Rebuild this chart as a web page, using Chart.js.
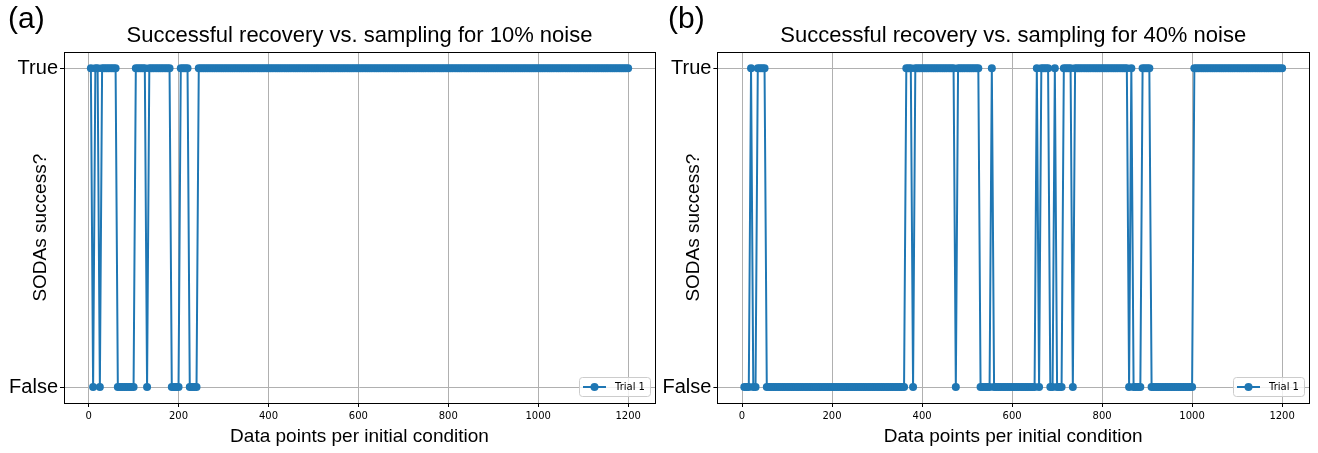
<!DOCTYPE html>
<html>
<head>
<meta charset="utf-8">
<script src="https://cdn.jsdelivr.net/npm/chart.js@4.4.1/dist/chart.umd.min.js"></script>
<style>
  html, body { margin: 0; padding: 0; background: #fff; }
  #wrap { position: relative; width: 1318px; height: 453px; overflow: hidden; }
  .panel { position: absolute; top: 0; height: 453px; }
  .tag { position: absolute; top: 1px; font-family: 'Liberation Sans', Arial, sans-serif; font-size: 30px; color: #000; }
</style>
</head>
<body>
<div id="wrap">
  <div class="panel" style="left:0;width:660px"><canvas id="chartA"></canvas></div>
  <div class="panel" style="left:660px;width:658px"><canvas id="chartB"></canvas></div>
  <div class="tag" style="left:8px">(a)</div>
  <div class="tag" style="left:668px">(b)</div>
</div>
<script>
// data points per initial condition (x values)
const samplesPerIC = [
    5, 10, 15, 20, 25, 30, 35, 40, 45, 50, 55, 60, 65, 70, 75, 80, 85, 90, 95, 100,
    105, 110, 115, 120, 125, 130, 135, 140, 145, 150, 155, 160, 165, 170, 175, 180, 185, 190, 195, 200,
    205, 210, 215, 220, 225, 230, 235, 240, 245, 250, 255, 260, 265, 270, 275, 280, 285, 290, 295, 300,
    305, 310, 315, 320, 325, 330, 335, 340, 345, 350, 355, 360, 365, 370, 375, 380, 385, 390, 395, 400,
    405, 410, 415, 420, 425, 430, 435, 440, 445, 450, 455, 460, 465, 470, 475, 480, 485, 490, 495, 500,
    505, 510, 515, 520, 525, 530, 535, 540, 545, 550, 555, 560, 565, 570, 575, 580, 585, 590, 595, 600,
    605, 610, 615, 620, 625, 630, 635, 640, 645, 650, 655, 660, 665, 670, 675, 680, 685, 690, 695, 700,
    705, 710, 715, 720, 725, 730, 735, 740, 745, 750, 755, 760, 765, 770, 775, 780, 785, 790, 795, 800,
    805, 810, 815, 820, 825, 830, 835, 840, 845, 850, 855, 860, 865, 870, 875, 880, 885, 890, 895, 900,
    905, 910, 915, 920, 925, 930, 935, 940, 945, 950, 955, 960, 965, 970, 975, 980, 985, 990, 995, 1000,
    1005, 1010, 1015, 1020, 1025, 1030, 1035, 1040, 1045, 1050, 1055, 1060, 1065, 1070, 1075, 1080, 1085, 1090, 1095, 1100,
    1105, 1110, 1115, 1120, 1125, 1130, 1135, 1140, 1145, 1150, 1155, 1160, 1165, 1170, 1175, 1180, 1185, 1190, 1195, 1200
];

// SODAs success, 1 = True, 0 = False (10% noise)
const trialA = [
    1, 0, 1, 1, 0, 1, 1, 1, 1, 1, 1, 1, 0, 0, 0, 0, 0, 0, 0, 0,
    1, 1, 1, 1, 1, 0, 1, 1, 1, 1, 1, 1, 1, 1, 1, 1, 0, 0, 0, 0,
    1, 1, 1, 1, 0, 0, 0, 0, 1, 1, 1, 1, 1, 1, 1, 1, 1, 1, 1, 1,
    1, 1, 1, 1, 1, 1, 1, 1, 1, 1, 1, 1, 1, 1, 1, 1, 1, 1, 1, 1,
    1, 1, 1, 1, 1, 1, 1, 1, 1, 1, 1, 1, 1, 1, 1, 1, 1, 1, 1, 1,
    1, 1, 1, 1, 1, 1, 1, 1, 1, 1, 1, 1, 1, 1, 1, 1, 1, 1, 1, 1,
    1, 1, 1, 1, 1, 1, 1, 1, 1, 1, 1, 1, 1, 1, 1, 1, 1, 1, 1, 1,
    1, 1, 1, 1, 1, 1, 1, 1, 1, 1, 1, 1, 1, 1, 1, 1, 1, 1, 1, 1,
    1, 1, 1, 1, 1, 1, 1, 1, 1, 1, 1, 1, 1, 1, 1, 1, 1, 1, 1, 1,
    1, 1, 1, 1, 1, 1, 1, 1, 1, 1, 1, 1, 1, 1, 1, 1, 1, 1, 1, 1,
    1, 1, 1, 1, 1, 1, 1, 1, 1, 1, 1, 1, 1, 1, 1, 1, 1, 1, 1, 1,
    1, 1, 1, 1, 1, 1, 1, 1, 1, 1, 1, 1, 1, 1, 1, 1, 1, 1, 1, 1
];

// SODAs success (40% noise)
const trialB = [
    0, 0, 0, 1, 0, 0, 1, 1, 1, 1, 0, 0, 0, 0, 0, 0, 0, 0, 0, 0,
    0, 0, 0, 0, 0, 0, 0, 0, 0, 0, 0, 0, 0, 0, 0, 0, 0, 0, 0, 0,
    0, 0, 0, 0, 0, 0, 0, 0, 0, 0, 0, 0, 0, 0, 0, 0, 0, 0, 0, 0,
    0, 0, 0, 0, 0, 0, 0, 0, 0, 0, 0, 0, 1, 1, 1, 0, 1, 1, 1, 1,
    1, 1, 1, 1, 1, 1, 1, 1, 1, 1, 1, 1, 1, 1, 0, 1, 1, 1, 1, 1,
    1, 1, 1, 1, 1, 0, 0, 0, 0, 0, 1, 0, 0, 0, 0, 0, 0, 0, 0, 0,
    0, 0, 0, 0, 0, 0, 0, 0, 0, 0, 1, 0, 1, 1, 1, 1, 0, 0, 1, 0,
    0, 0, 1, 1, 1, 1, 0, 1, 1, 1, 1, 1, 1, 1, 1, 1, 1, 1, 1, 1,
    1, 1, 1, 1, 1, 1, 1, 1, 1, 1, 1, 0, 1, 0, 0, 0, 0, 1, 1, 1,
    1, 0, 0, 0, 0, 0, 0, 0, 0, 0, 0, 0, 0, 0, 0, 0, 0, 0, 0, 0,
    1, 1, 1, 1, 1, 1, 1, 1, 1, 1, 1, 1, 1, 1, 1, 1, 1, 1, 1, 1,
    1, 1, 1, 1, 1, 1, 1, 1, 1, 1, 1, 1, 1, 1, 1, 1, 1, 1, 1, 1
];

const yTickLabels = ['False', 'True'];
const xTicks = [0, 200, 400, 600, 800, 1000, 1200];
const seriesName = 'Trial 1';
const titleA = 'Successful recovery vs. sampling for 10% noise';
const titleB = 'Successful recovery vs. sampling for 40% noise';

const blue = '#1f77b4';
const sans = "'Liberation Sans', Arial, sans-serif";
const deja = "'DejaVu Sans', sans-serif";

Chart.defaults.font.family = sans;
Chart.defaults.color = '#000';

// box round the plot area (matplotlib spines)
const frame = {
    id: 'frame',
    afterDatasetsDraw(chart) {
        const { ctx, chartArea: a } = chart;
        ctx.save();
        ctx.strokeStyle = '#000';
        ctx.lineWidth = 1;
        ctx.strokeRect(Math.round(a.left) + 0.5, Math.round(a.top) + 0.5,
            Math.round(a.right - a.left), Math.round(a.bottom - a.top));
        ctx.restore();
    }
};

// legend inside the axes, lower right corner
const innerLegend = {
    id: 'innerLegend',
    afterDraw(chart) {
        const { ctx, chartArea: a } = chart;
        const ds = chart.data.datasets[0];
        ctx.save();
        ctx.font = '10px ' + deja;
        const w = 36 + ctx.measureText(ds.label).width + 5;
        const h = 19;
        const x = Math.round(a.right - 5 - w), y = Math.round(a.bottom - 7 - h);
        ctx.beginPath();
        ctx.roundRect(x + 0.5, y + 0.5, w, h, 3);
        ctx.fillStyle = 'rgba(255,255,255,0.8)';
        ctx.fill();
        ctx.strokeStyle = '#cccccc';
        ctx.lineWidth = 1;
        ctx.stroke();
        const my = y + h / 2 + 0.5;
        ctx.strokeStyle = ds.borderColor;
        ctx.lineWidth = 2;
        ctx.beginPath();
        ctx.moveTo(x + 4, my);
        ctx.lineTo(x + 27, my);
        ctx.stroke();
        ctx.fillStyle = ds.borderColor;
        ctx.beginPath();
        ctx.arc(x + 15.5, my, 4, 0, Math.PI * 2);
        ctx.fill();
        ctx.fillStyle = '#000';
        ctx.textBaseline = 'middle';
        ctx.fillText(ds.label, x + 36, my);
        ctx.restore();
    }
};

const makeChart = (id, values, title, geo) => {
    const ctx = document.getElementById(id).getContext('2d');
    return new Chart(ctx, {
        type: 'line',
        data: {
            datasets: [{
                label: seriesName,
                data: samplesPerIC.map((x, i) => ({ x: x, y: values[i] })),
                borderColor: blue,
                backgroundColor: blue,
                borderWidth: 2,
                pointRadius: 4,
                pointHoverRadius: 4,
                pointBorderWidth: 0,
                pointBackgroundColor: blue,
                tension: 0
            }]
        },
        options: {
            responsive: true,
            maintainAspectRatio: false,
            animation: false,
            events: [],
            layout: { padding: { left: 0, right: geo.rightPad, top: 0, bottom: 0 } },
            scales: {
                x: {
                    type: 'linear',
                    min: -54.75,
                    max: 1259.75,
                    afterBuildTicks: s => { s.ticks = xTicks.map(v => ({ value: v })); },
                    afterFit: s => { s.height = 50; },
                    grid: { color: '#b0b0b0', lineWidth: 1, tickColor: '#000', tickLength: 4 },
                    border: { display: false },
                    ticks: {
                        font: { family: deja, size: 10 }, color: '#000', padding: 3,
                        maxRotation: 0, autoSkip: false, callback: v => String(v)
                    },
                    title: {
                        display: true,
                        text: 'Data points per initial condition',
                        font: { size: 19 },
                        color: '#000',
                        padding: { top: 0, bottom: 5 }
                    }
                },
                y: {
                    type: 'linear',
                    min: -0.05,
                    max: 1.05,
                    afterBuildTicks: s => { s.ticks = [{ value: 0 }, { value: 1 }]; },
                    afterFit: s => { s.width = geo.yWidth; },
                    grid: { color: '#b0b0b0', lineWidth: 1, tickColor: '#000', tickLength: 4 },
                    border: { display: false },
                    ticks: { font: { size: 20 }, color: '#000', padding: 2, callback: v => yTickLabels[v] },
                    title: {
                        display: true,
                        text: 'SODAs success?',
                        font: { size: 19 },
                        color: '#000',
                        padding: { top: geo.yTitlePad, bottom: 0 }
                    }
                }
            },
            plugins: {
                legend: { display: false },
                tooltip: { enabled: false },
                title: {
                    display: true,
                    text: title,
                    fullSize: false,
                    font: { size: 22, weight: 'normal' },
                    color: '#000',
                    padding: { top: 23, bottom: 3 }
                }
            }
        },
        plugins: [frame, innerLegend]
    });
};

makeChart('chartA', trialA, titleA, { yWidth: 64, rightPad: 5, yTitlePad: 29 });
makeChart('chartB', trialB, titleB, { yWidth: 57.4, rightPad: 9, yTitlePad: 22 });
</script>
</body>
</html>
